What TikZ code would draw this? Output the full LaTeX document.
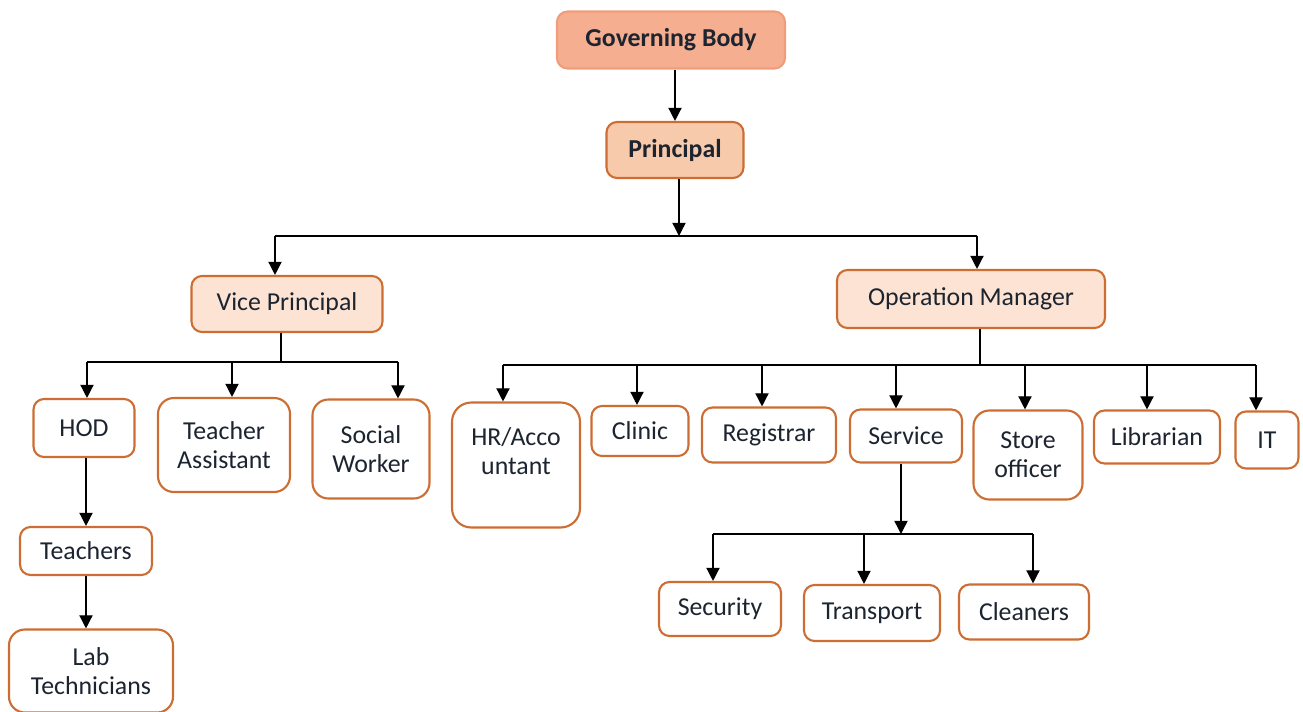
\documentclass[tikz,border=0pt]{standalone}
\usepackage{fontspec}
\setmainfont{Carlito}
\usepackage{xcolor}
\usepackage{tikz}
\usetikzlibrary{arrows.meta}
\definecolor{gbfill}{HTML}{F5AE8F}
\definecolor{gbline}{HTML}{F19C7A}
\definecolor{prfill}{HTML}{F8CAAC}
\definecolor{lvfill}{HTML}{FCE3D4}
\definecolor{boxline}{HTML}{CC6E33}
\definecolor{txt}{HTML}{1C2430}
\tikzset{
	box/.style={draw=boxline, line width=1.2pt, rounded corners=6pt, fill=white, align=center, inner sep=0pt, text=txt, font=\fontsize{14.7}{16.5}\selectfont},
	bold/.style={font=\fontsize{14.7}{16.5}\selectfont\bfseries},
	sz/.style 2 args={minimum width=#1*0.02cm, minimum height=#2*0.02cm},
	arr/.style={-{Triangle[width=7.5pt,length=7.5pt]}, line width=0.8pt},
	bus/.style={line width=0.8pt},
}

\begin{document}
\begin{tikzpicture}[x=0.02cm, y=-0.02cm]
	\useasboundingbox (0,0) rectangle (1303,711);
	% top
	\node[box, bold, fill=gbfill, draw=gbline, sz={228}{57}] (gb) at (671,40) {Governing Body};
	\node[box, bold, fill=prfill, sz={137}{56}] (pr) at (675,150) {Principal};
	\node[box, fill=lvfill, sz={191}{56}] (vp) at (287,304) {Vice Principal};
	\node[box, fill=lvfill, sz={268}{58}] (om) at (971,299) {Operation Manager};
	% academic side
	\node[box, sz={101}{58}] (hod) at (84,428) {HOD};
	\node[box, sz={132}{94}, rounded corners=9pt] (ta) at (224,445) {Teacher\\Assistant};
	\node[box, sz={117}{99}, rounded corners=9pt] (sw) at (371,449) {Social\\Worker};
	\node[box, sz={132}{48}] (tch) at (86,551) {Teachers};
	\node[box, sz={164}{83}, rounded corners=9pt] (lab) at (91,671) {Lab\\Technicians};
	% operations side
	\node[box, sz={128}{125}, rounded corners=11pt] (hr) at (516,465) {HR/Acco\\untant\\[-6pt]\strut};
	\node[box, sz={97}{50}] (cl) at (640,431) {Clinic};
	\node[box, sz={134}{55}] (reg) at (769,435) {Registrar};
	\node[box, sz={112}{53}] (srv) at (906,436) {Service};
	\node[box, sz={109}{89}, rounded corners=9pt] (st) at (1028,455) {Store\\officer};
	\node[box, sz={126}{53}] (lib) at (1157,437) {Librarian};
	\node[box, sz={63}{57}] (it) at (1267,440) {IT};
	\node[box, sz={122}{54}] (sec) at (720,609) {Security};
	\node[box, sz={136}{56}] (tr) at (872,613) {Transport};
	\node[box, sz={130}{55}] (cln) at (1024,612) {Cleaners};

	% connectors
	\draw[arr] (gb.south -| pr.north) -- (pr.north);
	\coordinate (pj) at (679,236);
	\coordinate (pb-vp) at (275,236);
	\coordinate (pb-om) at (977,236);
	\draw[arr] (pr.south -| pj) -- (pj);
	\draw[bus] (pb-vp) -- (pb-om);
	\draw[arr] (pb-vp) -- (pb-vp |- vp.north);
	\draw[arr] (pb-om) -- (pb-om |- om.north);

	\coordinate (vj) at (281,362);
	\draw[bus] (vp.south -| vj) -- (vj);
	\foreach \x/\n in {87/hod, 232/ta, 398/sw} {
		\coordinate (vb-\n) at (\x,362);
		\draw[arr] (vb-\n) -- (vb-\n |- \n.north);
	}
	\draw[bus] (vb-hod) -- (vb-sw);
	\draw[arr] (hod.south -| tch.north) -- (tch.north);
	\draw[arr] (tch.south) -- (tch.south |- lab.north);

	\coordinate (oj) at (980,365);
	\draw[bus] (om.south -| oj) -- (oj);
	\foreach \x/\n in {503/hr, 637/cl, 762/reg, 896/srv, 1025/st, 1147/lib, 1256/it} {
		\coordinate (ob-\n) at (\x,365);
		\draw[arr] (ob-\n) -- (ob-\n |- \n.north);
	}
	\draw[bus] (ob-hr) -- (ob-it);

	\coordinate (sj) at (901,534);
	\draw[arr] (srv.south -| sj) -- (sj);
	\foreach \x/\n in {713/sec, 864/tr, 1033/cln} {
		\coordinate (sb-\n) at (\x,534);
		\draw[arr] (sb-\n) -- (sb-\n |- \n.north);
	}
	\draw[bus] (sb-sec) -- (sb-cln);
\end{tikzpicture}
\end{document}
